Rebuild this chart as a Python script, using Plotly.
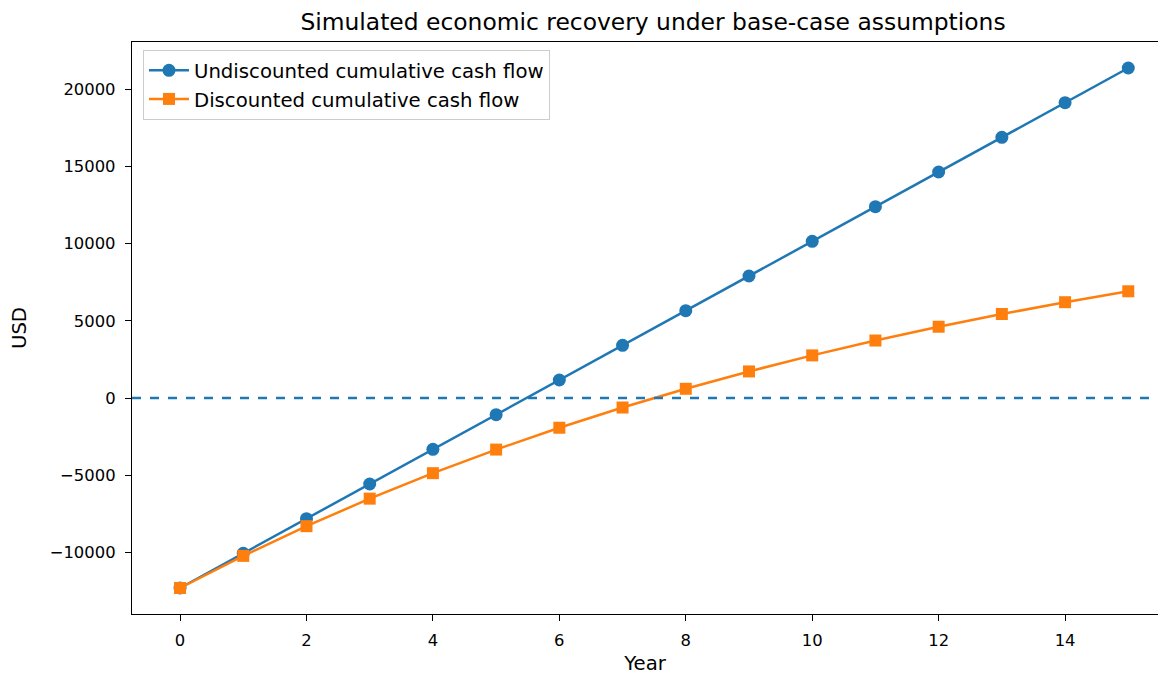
import plotly.graph_objects as go

years = list(range(16))
undiscounted = [-12300, -10055, -7810, -5565, -3320, -1075, 1170, 3415, 5660,
                7905, 10150, 12395, 14640, 16885, 19130, 21375]
discounted = [-12300, -10221, -8297, -6514, -4864, -3336, -1922, -612, 601,
              1724, 2764, 3727, 4619, 5444, 6208, 6916]
x_ticks = [0, 2, 4, 6, 8, 10, 12, 14]
y_ticks = [-10000, -5000, 0, 5000, 10000, 15000, 20000]
y_tick_text = ["\u221210000", "\u22125000", "0", "5000", "10000", "15000", "20000"]

BLUE = "#1f77b4"
ORANGE = "#ff7f0e"
FONT = "DejaVu Sans"

W, H = 1150, 667
L, T, B = 124, 34, 61

fig = go.Figure()
fig.add_trace(go.Scatter(
    x=years, y=undiscounted, mode="lines+markers",
    name="Undiscounted cumulative cash flow",
    line=dict(color=BLUE, width=2.5),
    marker=dict(symbol="circle", size=13, color=BLUE),
))
fig.add_trace(go.Scatter(
    x=years, y=discounted, mode="lines+markers",
    name="Discounted cumulative cash flow",
    line=dict(color=ORANGE, width=2.5),
    marker=dict(symbol="square", size=12, color=ORANGE),
))
fig.add_hline(y=0, line=dict(color=BLUE, width=2.4, dash="dash"))

fig.update_layout(
    width=W, height=H,
    margin=dict(l=L, r=0, t=T, b=B, autoexpand=False),
    paper_bgcolor="white", plot_bgcolor="white",
    font=dict(family=FONT, size=16.4, color="black"),
    title=dict(text="Simulated economic recovery under base-case assumptions",
               x=645 / W, xanchor="center",
               y=1 - 14 / H, yanchor="middle",
               font=dict(family=FONT, size=23.4, color="black")),
    showlegend=True,
    legend=dict(x=0.0107, y=0.986, xanchor="left", yanchor="top",
                bgcolor="rgba(255,255,255,0.8)", bordercolor="#cccccc",
                borderwidth=1, font=dict(family=FONT, size=19.7, color="black"),
                tracegroupgap=0, itemwidth=40),
    xaxis=dict(range=[-0.76, 15.47], tickvals=x_ticks, showgrid=False,
               zeroline=False, showline=True, linecolor="black", linewidth=1.3,
               mirror=True, ticks="outside", ticklen=6, tickcolor="black",
               tickwidth=1.3, ticklabelstandoff=5, automargin=False,
               title=dict(text="Year", standoff=10,
                          font=dict(family=FONT, size=19.7, color="black"))),
    yaxis=dict(range=[-13984, 23059], tickvals=y_ticks, ticktext=y_tick_text,
               showgrid=False, zeroline=False, showline=True,
               linecolor="black", linewidth=1.3, mirror=False,
               ticks="outside", ticklen=6, tickcolor="black", tickwidth=1.3,
               ticklabelstandoff=6, automargin=False,
               title=dict(text="USD", standoff=20,
                          font=dict(family=FONT, size=19.7, color="black"))),
)

fig.write_html("out.html")
